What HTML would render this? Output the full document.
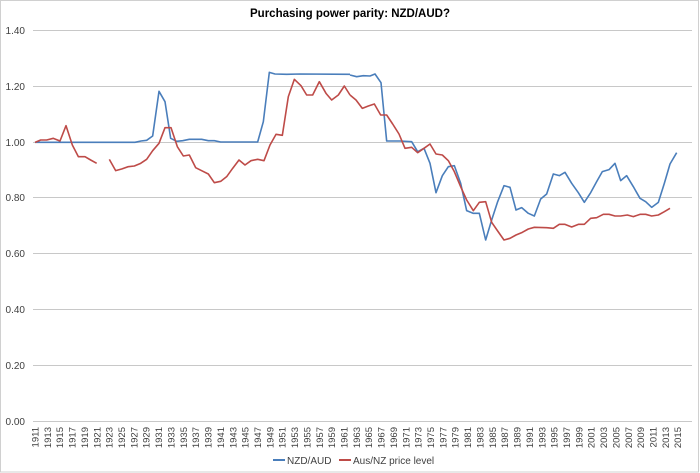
<!DOCTYPE html>
<html><head><meta charset="utf-8"><style>
html,body{margin:0;padding:0;background:#fff;}
svg{display:block;font-family:"Liberation Sans",sans-serif;}
</style></head><body>
<svg width="700" height="473" viewBox="0 0 700 473" xmlns="http://www.w3.org/2000/svg">
<rect x="0.5" y="0.5" width="698" height="471.5" fill="#fff" stroke="#d0d0d0"/>
<text x="350" y="17" text-anchor="middle" font-size="11.5" font-weight="bold" fill="#000">Purchasing power parity: NZD/AUD?</text>
<g stroke="#c8c8c8" stroke-width="1">
<line x1="33" y1="30.5" x2="692" y2="30.5"/>
<line x1="33" y1="86.5" x2="692" y2="86.5"/>
<line x1="33" y1="142.5" x2="692" y2="142.5"/>
<line x1="33" y1="197.5" x2="692" y2="197.5"/>
<line x1="33" y1="253.5" x2="692" y2="253.5"/>
<line x1="33" y1="309.5" x2="692" y2="309.5"/>
<line x1="33" y1="365.5" x2="692" y2="365.5"/>
<line x1="33" y1="421.5" x2="692" y2="421.5"/>
</g>
<g font-size="10" fill="#404040" text-anchor="end">
<text x="25" y="34">1.40</text>
<text x="25" y="90">1.20</text>
<text x="25" y="146">1.00</text>
<text x="25" y="201">0.80</text>
<text x="25" y="257">0.60</text>
<text x="25" y="313">0.40</text>
<text x="25" y="369">0.20</text>
<text x="25" y="425">0.00</text>
</g>
<g font-size="9.5" fill="#404040" text-anchor="end">
<text transform="translate(38.5,427) rotate(-90)">1911</text>
<text transform="translate(50.9,427) rotate(-90)">1913</text>
<text transform="translate(63.2,427) rotate(-90)">1915</text>
<text transform="translate(75.6,427) rotate(-90)">1917</text>
<text transform="translate(87.9,427) rotate(-90)">1919</text>
<text transform="translate(100.3,427) rotate(-90)">1921</text>
<text transform="translate(112.7,427) rotate(-90)">1923</text>
<text transform="translate(125.0,427) rotate(-90)">1925</text>
<text transform="translate(137.4,427) rotate(-90)">1927</text>
<text transform="translate(149.7,427) rotate(-90)">1929</text>
<text transform="translate(162.1,427) rotate(-90)">1931</text>
<text transform="translate(174.5,427) rotate(-90)">1933</text>
<text transform="translate(186.8,427) rotate(-90)">1935</text>
<text transform="translate(199.2,427) rotate(-90)">1937</text>
<text transform="translate(211.5,427) rotate(-90)">1939</text>
<text transform="translate(223.9,427) rotate(-90)">1941</text>
<text transform="translate(236.3,427) rotate(-90)">1943</text>
<text transform="translate(248.6,427) rotate(-90)">1945</text>
<text transform="translate(261.0,427) rotate(-90)">1947</text>
<text transform="translate(273.3,427) rotate(-90)">1949</text>
<text transform="translate(285.7,427) rotate(-90)">1951</text>
<text transform="translate(298.1,427) rotate(-90)">1953</text>
<text transform="translate(310.4,427) rotate(-90)">1955</text>
<text transform="translate(322.8,427) rotate(-90)">1957</text>
<text transform="translate(335.1,427) rotate(-90)">1959</text>
<text transform="translate(347.5,427) rotate(-90)">1961</text>
<text transform="translate(359.9,427) rotate(-90)">1963</text>
<text transform="translate(372.2,427) rotate(-90)">1965</text>
<text transform="translate(384.6,427) rotate(-90)">1967</text>
<text transform="translate(396.9,427) rotate(-90)">1969</text>
<text transform="translate(409.3,427) rotate(-90)">1971</text>
<text transform="translate(421.7,427) rotate(-90)">1973</text>
<text transform="translate(434.0,427) rotate(-90)">1975</text>
<text transform="translate(446.4,427) rotate(-90)">1977</text>
<text transform="translate(458.7,427) rotate(-90)">1979</text>
<text transform="translate(471.1,427) rotate(-90)">1981</text>
<text transform="translate(483.5,427) rotate(-90)">1983</text>
<text transform="translate(495.8,427) rotate(-90)">1985</text>
<text transform="translate(508.2,427) rotate(-90)">1987</text>
<text transform="translate(520.5,427) rotate(-90)">1989</text>
<text transform="translate(532.9,427) rotate(-90)">1991</text>
<text transform="translate(545.3,427) rotate(-90)">1993</text>
<text transform="translate(557.6,427) rotate(-90)">1995</text>
<text transform="translate(570.0,427) rotate(-90)">1997</text>
<text transform="translate(582.3,427) rotate(-90)">1999</text>
<text transform="translate(594.7,427) rotate(-90)">2001</text>
<text transform="translate(607.1,427) rotate(-90)">2003</text>
<text transform="translate(619.4,427) rotate(-90)">2005</text>
<text transform="translate(631.8,427) rotate(-90)">2007</text>
<text transform="translate(644.1,427) rotate(-90)">2009</text>
<text transform="translate(656.5,427) rotate(-90)">2011</text>
<text transform="translate(668.9,427) rotate(-90)">2013</text>
<text transform="translate(681.2,427) rotate(-90)">2015</text>
</g>
<g transform="translate(0,20) scale(0.33333)" fill="none" stroke-width="4.8" stroke-linejoin="round">
<polyline stroke="#4a7ebb" points="105,367 405,367 423,363 440,361 458,348 477,214 495,245 512,355 530,364 548,362 568,358 605,358 625,362 643,362 662,366 773,366 790,305 808,157 825,162 860,163 900,162 1050,163"/>
<polyline stroke="#be4b48" points="105,367 122,360 140,360 160,355 180,363 198,317 217,375 235,410 255,410 272,420 290,430"/>
<polyline stroke="#be4b48" points="328,418 347,452 365,447 385,440 403,438 422,430 440,418 458,392 477,370 495,323 513,323 532,380 550,408 568,405 587,443 605,452 625,462 643,488 662,484 680,470 698,445 717,420 735,435 753,422 773,418 792,422 810,375 828,343 847,346 865,230 883,178 903,197 920,225 938,225 958,185 978,220 995,240 1015,225 1033,198 1050,225"/>
</g>
<g transform="translate(350,20) scale(0.33333)" fill="none" stroke-width="4.8" stroke-linejoin="round">
<polyline stroke="#4a7ebb" points="0,165 20,170 40,167 60,168 75,162 93,188 110,363 150,363 185,365 203,395 222,385 240,430 258,518 277,467 295,440 313,437 332,490 350,572 370,580 388,580 407,660 425,600 443,545 462,497 480,502 498,570 515,563 535,580 553,588 572,537 590,522 610,462 628,467 645,457 665,490 685,518 703,547 722,518 740,485 757,455 777,449 795,430 812,482 830,467 850,500 870,535 887,545 905,562 925,547 943,490 960,432 980,398"/>
<polyline stroke="#be4b48" points="0,225 18,240 37,265 55,258 73,252 92,285 110,285 128,312 147,342 165,385 185,382 203,398 222,385 240,372 258,402 277,405 295,422 313,455 332,500 350,540 370,572 388,547 407,545 425,607 443,633 462,660 480,655 498,645 517,637 535,627 553,622 590,623 610,625 628,613 645,613 665,621 685,613 703,613 722,595 740,593 760,583 777,583 795,588 812,588 832,585 850,590 870,583 887,583 905,588 925,585 943,575 960,565"/>
</g>
<line x1="273" y1="460" x2="285" y2="460" stroke="#4a7ebb" stroke-width="2"/>
<text x="287" y="464" font-size="10" fill="#404040">NZD/AUD</text>
<line x1="339" y1="460" x2="351" y2="460" stroke="#be4b48" stroke-width="2"/>
<text x="353" y="464" font-size="10" fill="#404040">Aus/NZ price level</text>
</svg>
</body></html>
